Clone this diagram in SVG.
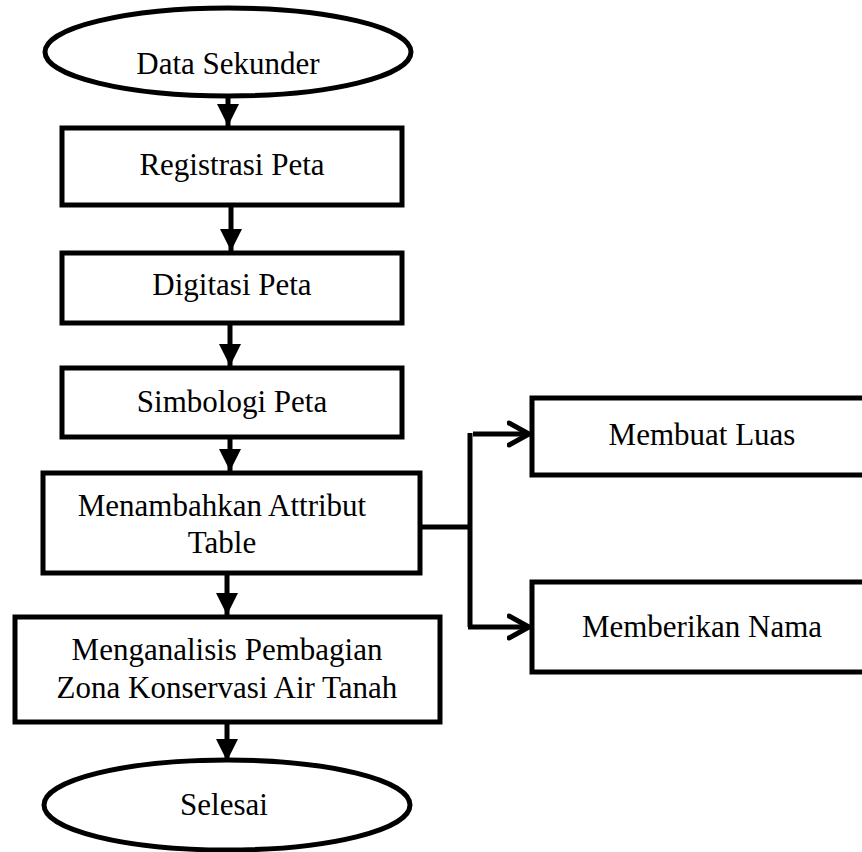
<svg xmlns="http://www.w3.org/2000/svg" width="862" height="852" viewBox="0 0 862 852">
<style>
.n{fill:#fff;stroke:#000;stroke-width:5}
.t{font-family:"Liberation Serif","Times New Roman",serif;font-size:31px;fill:#000;text-anchor:middle}
.c{fill:none;stroke:#000;stroke-width:5}
</style>
<defs>
<marker id="tri" markerUnits="userSpaceOnUse" markerWidth="24" markerHeight="24" refX="22" refY="11" orient="auto" viewBox="0 0 24 22">
<path d="M0,0 L22,11 L0,22 Z" fill="#000"/>
</marker>
<marker id="open" markerUnits="userSpaceOnUse" markerWidth="30" markerHeight="30" refX="22" refY="13" orient="auto" viewBox="0 0 30 26">
<path d="M2,2 L22,13 L2,24" fill="none" stroke="#000" stroke-width="5" stroke-linecap="round" stroke-linejoin="miter"/>
</marker>
</defs>
<g id="connectors">
<line class="c" x1="228" y1="83" x2="228" y2="126" marker-end="url(#tri)"/>
<line class="c" x1="231" y1="205" x2="231" y2="251" marker-end="url(#tri)"/>
<line class="c" x1="230" y1="323" x2="230" y2="366" marker-end="url(#tri)"/>
<line class="c" x1="230" y1="437" x2="230" y2="471" marker-end="url(#tri)"/>
<line class="c" x1="227" y1="573" x2="227" y2="615" marker-end="url(#tri)"/>
<line class="c" x1="227" y1="722" x2="227" y2="761" marker-end="url(#tri)"/>
<path class="c" d="M420,527 H470"/>
<path class="c" d="M470,433 V627"/>
<line class="c" x1="473" y1="434" x2="529" y2="434" marker-end="url(#open)"/>
<line class="c" x1="468" y1="627" x2="529" y2="627" marker-end="url(#open)"/>
</g>
<g id="n1">
<ellipse class="n" cx="228" cy="52" rx="183" ry="44"/>
<text class="t" x="228" y="74">Data Sekunder</text>
</g>
<g id="n2">
<rect class="n" x="62" y="128" width="340" height="77"/>
<text class="t" x="232" y="175">Registrasi Peta</text>
</g>
<g id="n3">
<rect class="n" x="62" y="253" width="340" height="70"/>
<text class="t" x="232" y="295">Digitasi Peta</text>
</g>
<g id="n4">
<rect class="n" x="62" y="368" width="340" height="69"/>
<text class="t" x="232" y="412">Simbologi Peta</text>
</g>
<g id="n5">
<rect class="n" x="43" y="473" width="377" height="100"/>
<text class="t" x="222" y="516">Menambahkan Attribut</text>
<text class="t" x="222" y="553">Table</text>
</g>
<g id="n6">
<rect class="n" x="15" y="617" width="425" height="105"/>
<text class="t" x="227" y="660">Menganalisis Pembagian</text>
<text class="t" x="227" y="698">Zona Konservasi Air Tanah</text>
</g>
<g id="n7">
<ellipse class="n" cx="227" cy="805" rx="183" ry="45"/>
<text class="t" x="224" y="815">Selesai</text>
</g>
<g id="n8">
<rect class="n" x="532" y="398" width="340" height="77"/>
<text class="t" x="702" y="445">Membuat Luas</text>
</g>
<g id="n9">
<rect class="n" x="532" y="582" width="340" height="90"/>
<text class="t" x="702" y="637">Memberikan Nama</text>
</g>
</svg>
